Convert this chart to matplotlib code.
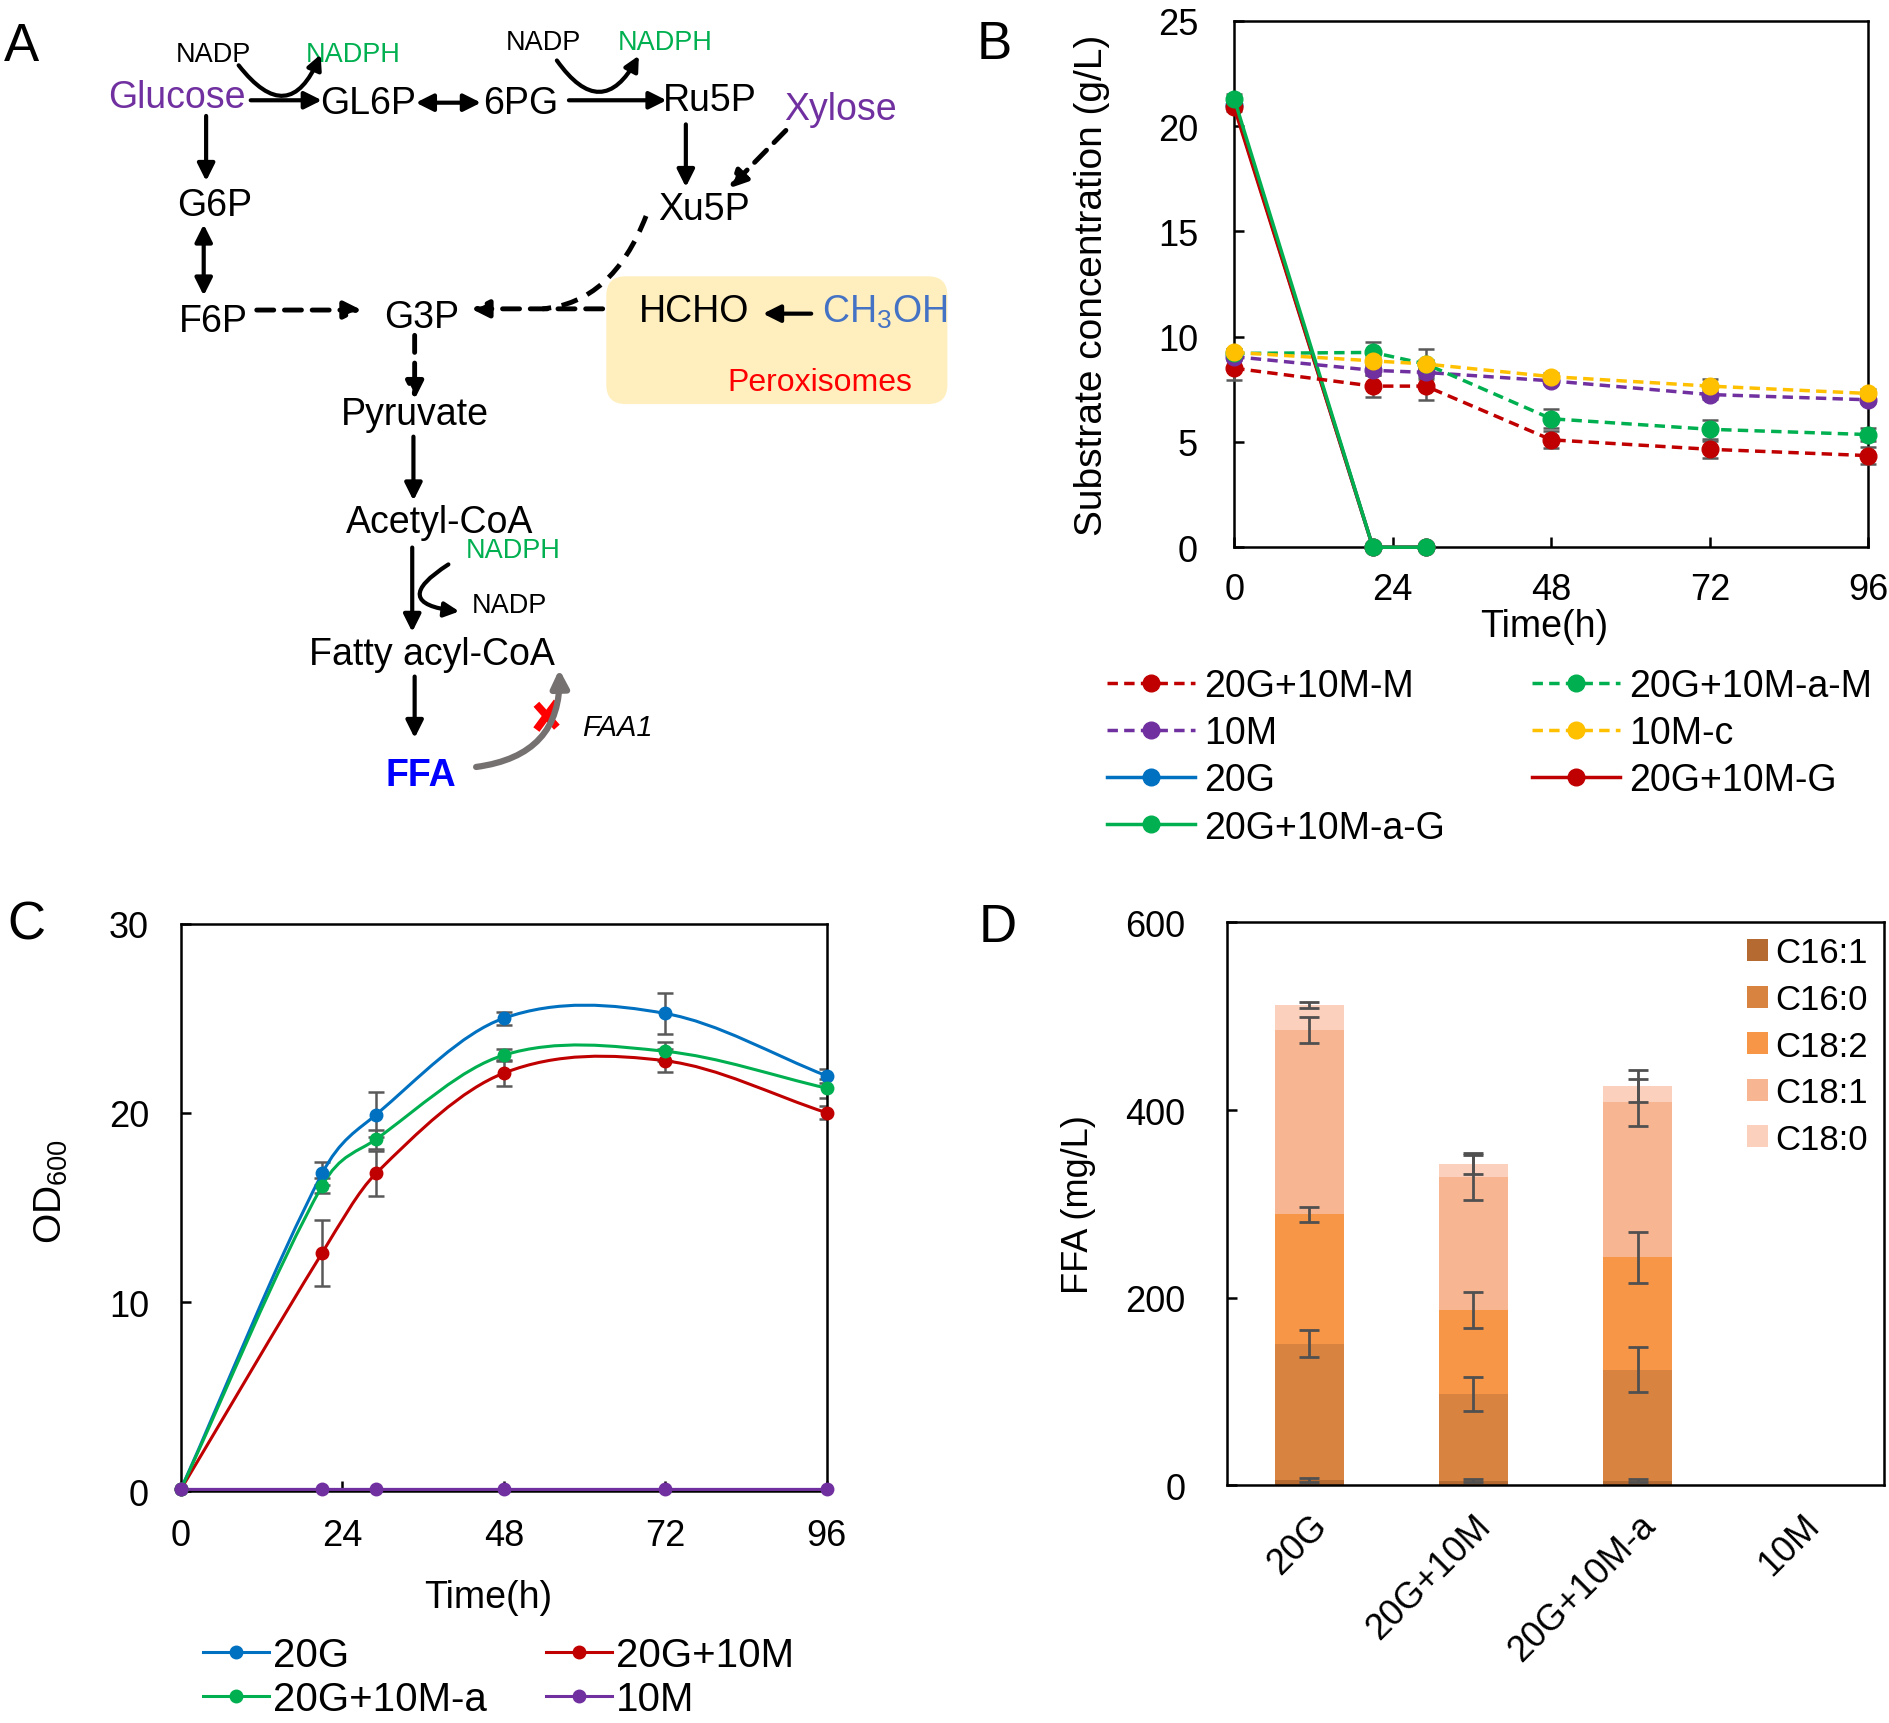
import numpy as np
import matplotlib
matplotlib.use("Agg")
import matplotlib.pyplot as plt
from matplotlib.lines import Line2D
from matplotlib.path import Path
from matplotlib.patches import FancyBboxPatch, PathPatch

plt.rcParams["font.family"] = ["Liberation Sans", "DejaVu Sans"]
plt.rcParams["mathtext.fontset"] = "custom"
plt.rcParams["mathtext.rm"] = "Liberation Sans"
plt.rcParams["mathtext.it"] = "Liberation Sans:italic"
plt.rcParams["mathtext.bf"] = "Liberation Sans:bold"

# ---- panel B: substrate concentration (g/L)
SUB_TIME = [0, 21, 29, 48, 72, 96]
GLC_TIME = [0, 21, 29]
meoh_20g10m = [8.5, 7.65, 7.65, 5.1, 4.65, 4.35]
meoh_20g10m_err = [0.57, 0.53, 0.68, 0.4, 0.4, 0.4]
meoh_10m = [9.05, 8.4, 8.3, 7.9, 7.25, 7.0]
meoh_10m_err = [0.15, 0.2, 0.2, 0.15, 0.2, 0.15]
meoh_10mc = [9.25, 8.85, 8.7, 8.1, 7.65, 7.3]
meoh_10mc_err = [0.15, 0.15, 0.2, 0.15, 0.35, 0.2]
meoh_20g10ma = [9.2, 9.25, 8.7, 6.1, 5.6, 5.35]
meoh_20g10ma_err = [0.2, 0.5, 0.7, 0.45, 0.45, 0.3]
glc_20g = [21.0, 0, 0]
glc_20g10m = [20.9, 0, 0]
glc_20g10ma = [21.3, 0, 0]
glc_err = [0.2, 0.05, 0.05]

# ---- panel C: OD600
OD_TIME = [0, 21, 29, 48, 72, 96]
od_20g = [0.1, 16.8, 19.9, 25.0, 25.25, 21.95]
od_20g_err = [0.05, 0.6, 1.2, 0.35, 1.1, 0.35]
od_20g10m = [0.1, 12.6, 16.8, 22.1, 22.75, 20.0]
od_20g10m_err = [0.05, 1.75, 1.2, 0.7, 0.6, 0.35]
od_20g10ma = [0.1, 16.15, 18.6, 23.05, 23.25, 21.3]
od_20g10ma_err = [0.05, 0.4, 0.5, 0.3, 0.5, 0.5]
od_10m = [0.1, 0.1, 0.1, 0.1, 0.1, 0.1]

# ---- panel D: FFA (mg/L)
FFA_GROUPS = ["20G", "20G+10M", "20G+10M-a", "10M"]
FFA_SPECIES = ["C16:1", "C16:0", "C18:2", "C18:1", "C18:0"]
ffa_c16_1 = [6, 5, 5, 0]
ffa_c16_0 = [145, 92, 118, 0]
ffa_c18_2 = [138, 90, 120, 0]
ffa_c18_1 = [196, 142, 165, 0]
ffa_c18_0 = [27, 13, 18, 0]
ffa_c16_1_err = [2, 2, 2, 0]
ffa_c16_0_err = [14, 18, 24, 0]
ffa_c18_2_err = [8, 19, 27, 0]
ffa_c18_1_err = [14, 25, 25, 0]
ffa_c18_0_err = [3, 10, 17, 0]

RED = "#C00000"
PURPLE = "#7030A0"
YELLOW = "#FFC000"
GREEN = "#00B050"
BLUE = "#0070C0"
ERR = "#595959"
FFA_COLORS = ["#B46A30", "#D98340", "#F79646", "#F8B592", "#FBD0BD"]

TICK_FS = 26


def arrow(ax, start, end, ls="-", style="-|>", color="black", lw=3.0, rad=0.0, ms=26):
    ax.annotate(
        "",
        xy=end,
        xytext=start,
        arrowprops=dict(
            arrowstyle=style,
            color=color,
            lw=lw,
            linestyle=ls,
            mutation_scale=ms,
            shrinkA=0,
            shrinkB=0,
            connectionstyle=f"arc3,rad={rad}",
        ),
    )


def draw_pathway(ax):
    dash = (0, (3.5, 2.2))
    box = FancyBboxPatch((503, 230), 283, 106, boxstyle="round,pad=0,rounding_size=16",
                         facecolor="#FFEFBF", edgecolor="none")
    ax.add_patch(box)

    big = 27
    small = 19.5
    labels = [
        ("Glucose", 147, 81, PURPLE, big),
        ("GL6P", 305, 86, "black", big),
        ("6PG", 432, 86, "black", big),
        ("Ru5P", 589, 84, "black", big),
        ("Xylose", 697, 91, PURPLE, big),
        ("G6P", 178, 171, "black", big),
        ("Xu5P", 584, 174, "black", big),
        ("F6P", 177, 267, "black", big),
        ("G3P", 350, 264, "black", big),
        ("HCHO", 576, 259, "black", big),
        ("CH$_\\mathregular{3}$OH", 734, 259, "#4472C4", big),
        ("Peroxisomes", 680, 318, "#FF0000", 23),
        ("Pyruvate", 344, 344, "black", big),
        ("Acetyl-CoA", 365, 434, "black", big),
        ("Fatty acyl-CoA", 358, 543, "black", big),
        ("NADP", 177, 46, "black", small),
        ("NADPH", 293, 46, GREEN, small),
        ("NADP", 451, 36, "black", small),
        ("NADPH", 552, 36, GREEN, small),
        ("NADPH", 426, 457, GREEN, small),
        ("NADP", 423, 503, "black", small),
    ]
    for text, x, y, color, size in labels:
        ax.text(x, y, text, ha="center", va="center", fontsize=size, color=color)
    ax.text(349, 644, "FFA", ha="center", va="center", fontsize=big, color="#0000FF",
            fontweight="bold")
    ax.text(512, 604, "FAA1", ha="center", va="center", fontsize=21, style="italic")

    # solid arrows
    arrow(ax, (208, 84), (267, 84))
    arrow(ax, (345, 86), (399, 86), style="<|-|>")
    arrow(ax, (472, 84), (553, 84))
    arrow(ax, (171, 97), (171, 151))
    arrow(ax, (169, 187), (169, 246), style="<|-|>")
    arrow(ax, (569, 104), (569, 156))
    arrow(ax, (673, 261), (633, 261))
    arrow(ax, (343, 363), (343, 416))
    arrow(ax, (342, 455), (342, 525))
    arrow(ax, (344, 562), (344, 613))

    # cofactor curves
    arrow(ax, (198, 55), (266, 46), rad=0.85, ms=22)
    arrow(ax, (462, 51), (530, 47), rad=0.8, ms=22)
    arrow(ax, (372, 469), (381, 508), rad=1.4, ms=22)

    # dashed arrows
    arrow(ax, (652, 109), (605, 157), ls=dash, lw=3.5)
    arrow(ax, (213, 258), (300, 258), ls=dash, lw=3.5)
    arrow(ax, (500, 257), (391, 257), ls=dash, lw=3.5)
    arrow(ax, (344, 279), (344, 332), ls=dash, lw=3.5)
    xu5p_link = Path([(536, 180), (508, 252), (450, 257)],
                     [Path.MOVETO, Path.CURVE3, Path.CURVE3])
    ax.add_patch(PathPatch(xu5p_link, fill=False, lw=3.5, ls=dash, ec="black"))

    # blocked FAA1 route
    arrow(ax, (395, 637), (464, 556), color="#767171", lw=4.5, rad=0.45, ms=26)
    ax.plot([445, 462], [606, 583], color="#FF0000", lw=5.5, solid_capstyle="butt")
    ax.plot([445, 462], [585, 604], color="#FF0000", lw=5.5, solid_capstyle="butt")

    for text, x, y in [("A", 18, 39), ("B", 825, 37), ("C", 22, 768), ("D", 828, 770)]:
        ax.text(x, y, text, ha="center", va="center", fontsize=38)


def style_axes(ax, pad_x, pad_y):
    for spine in ax.spines.values():
        spine.set_linewidth(1.8)
    ax.tick_params(direction="in", length=7, width=1.8, labelsize=TICK_FS)
    ax.tick_params(axis="x", pad=pad_x)
    ax.tick_params(axis="y", pad=pad_y)


def smooth_path(xs, ys):
    # cubic Hermite through the points, finite-difference slopes (smoothed line look)
    xs = np.asarray(xs, dtype=float)
    ys = np.asarray(ys, dtype=float)
    n = len(xs)
    slopes = np.empty(n)
    for i in range(n):
        lo = max(i - 1, 0)
        hi = min(i + 1, n - 1)
        slopes[i] = (ys[hi] - ys[lo]) / (xs[hi] - xs[lo])
    verts = [(xs[0], ys[0])]
    codes = [Path.MOVETO]
    for i in range(n - 1):
        h = (xs[i + 1] - xs[i]) / 3.0
        verts += [(xs[i] + h, ys[i] + slopes[i] * h),
                  (xs[i + 1] - h, ys[i + 1] - slopes[i + 1] * h),
                  (xs[i + 1], ys[i + 1])]
        codes += [Path.CURVE4] * 3
    return Path(verts, codes)


def draw_substrate(ax):
    dashed = (0, (3, 1.8))
    series = [
        ("20G", GLC_TIME, glc_20g, glc_err, BLUE, "-"),
        ("20G+10M-G", GLC_TIME, glc_20g10m, glc_err, RED, "-"),
        ("20G+10M-a-G", GLC_TIME, glc_20g10ma, glc_err, GREEN, "-"),
        ("20G+10M-M", SUB_TIME, meoh_20g10m, meoh_20g10m_err, RED, dashed),
        ("10M", SUB_TIME, meoh_10m, meoh_10m_err, PURPLE, dashed),
        ("20G+10M-a-M", SUB_TIME, meoh_20g10ma, meoh_20g10ma_err, GREEN, dashed),
        ("10M-c", SUB_TIME, meoh_10mc, meoh_10mc_err, YELLOW, dashed),
    ]
    lines = {}
    for label, t, y, e, color, ls in series:
        cont = ax.errorbar(t, y, yerr=e, color=color, ls=ls, lw=2.5, marker="o", ms=12,
                           ecolor=ERR, elinewidth=1.8, capsize=6, capthick=1.8,
                           label=label, clip_on=False, zorder=3)
        for artist in cont.lines[1] + cont.lines[2]:
            artist.set_clip_on(False)
        cont[0].set_clip_on(False)
        lines[label] = cont[0]

    ax.set_xlim(0, 96)
    ax.set_ylim(0, 25)
    ax.set_xticks([0, 24, 48, 72, 96])
    ax.set_yticks([0, 5, 10, 15, 20, 25])
    style_axes(ax, 18, 26)
    ax.set_xlabel("Time(h)", fontsize=27)
    ax.set_ylabel("Substrate concentration (g/L)", fontsize=28)
    ax.xaxis.set_label_coords(0.488, -0.115)
    ax.yaxis.set_label_coords(-0.195, 0.5)

    order = ["20G+10M-M", "10M", "20G", "20G+10M-a-G",
             "20G+10M-a-M", "10M-c", "20G+10M-G"]
    ax.legend([lines[k] for k in order], order, ncol=2, loc="upper left",
              bbox_to_anchor=(-0.201, -0.229), frameon=False, fontsize=27,
              handlelength=2.35, handletextpad=0.26, columnspacing=2.3,
              labelspacing=0.3, borderpad=0, borderaxespad=0)


def draw_growth(ax):
    series = [
        ("20G", od_20g, od_20g_err, BLUE),
        ("20G+10M", od_20g10m, od_20g10m_err, RED),
        ("20G+10M-a", od_20g10ma, od_20g10ma_err, GREEN),
        ("10M", od_10m, None, PURPLE),
    ]
    handles = {}
    for label, y, e, color in series:
        ax.add_patch(PathPatch(smooth_path(OD_TIME, y), fill=False, ec=color, lw=2.2,
                               clip_on=False, zorder=3))
        if e is not None:
            ax.errorbar(OD_TIME[1:], y[1:], yerr=e[1:], fmt="none", ecolor=ERR,
                        elinewidth=1.8, capsize=6, capthick=1.8, zorder=2)
        ax.plot(OD_TIME, y, ls="none", marker="o", ms=9, color=color, clip_on=False,
                zorder=4)
        handles[label] = Line2D([], [], color=color, lw=2.2, marker="o", ms=9)

    ax.set_xlim(0, 96)
    ax.set_ylim(0, 30)
    ax.set_xticks([0, 24, 48, 72, 96])
    ax.set_yticks([0, 10, 20, 30])
    style_axes(ax, 19, 23)
    ax.set_xlabel("Time(h)", fontsize=27)
    ax.set_ylabel("OD$_\\mathregular{600}$", fontsize=28)
    ax.xaxis.set_label_coords(0.476, -0.155)
    ax.yaxis.set_label_coords(-0.172, 0.53)

    order = ["20G", "20G+10M-a", "20G+10M", "10M"]
    ax.legend([handles[k] for k in order], order, ncol=2, loc="upper left",
              bbox_to_anchor=(0.034, -0.255), frameon=False, fontsize=29,
              handlelength=1.65, handletextpad=0.1, columnspacing=1.45,
              labelspacing=0.15, borderpad=0, borderaxespad=0)


def draw_ffa(ax):
    x = np.arange(len(FFA_GROUPS))
    layers = [ffa_c16_1, ffa_c16_0, ffa_c18_2, ffa_c18_1, ffa_c18_0]
    errors = [ffa_c16_1_err, ffa_c16_0_err, ffa_c18_2_err, ffa_c18_1_err, ffa_c18_0_err]
    bottom = np.zeros(len(FFA_GROUPS))
    for name, vals, errs, color in zip(FFA_SPECIES, layers, errors, FFA_COLORS):
        vals = np.array(vals, dtype=float)
        ax.bar(x, vals, 0.42, bottom=bottom, color=color, label=name, zorder=1)
        tops = bottom + vals
        mask = vals > 0
        ax.errorbar(x[mask], tops[mask], yerr=np.array(errs)[mask], fmt="none",
                    ecolor="#505050", elinewidth=2, capsize=7, capthick=2, zorder=3)
        bottom = tops

    ax.set_xlim(-0.5, 3.5)
    ax.set_ylim(0, 600)
    ax.set_yticks([0, 200, 400, 600])
    ax.set_xticks(x)
    ax.set_xticklabels(FFA_GROUPS, rotation=45, ha="right", va="top",
                       rotation_mode="anchor")
    style_axes(ax, 16, 30)
    ax.tick_params(axis="x", length=0)
    ax.set_ylabel("FFA (mg/L)", fontsize=26)
    ax.yaxis.set_label_coords(-0.2, 0.5)
    ax.legend(loc="upper right", bbox_to_anchor=(0.975, 0.975), frameon=False,
              fontsize=25, handlelength=0.6, handleheight=0.6, handletextpad=0.2,
              labelspacing=0.39, borderpad=0, borderaxespad=0)


fig = plt.figure(figsize=(18.9, 17.24), dpi=100)

ax_a = fig.add_axes([0, 0, 1, 1])
ax_a.set_xlim(0, 1568)
ax_a.set_ylim(1430, 0)
ax_a.axis("off")
draw_pathway(ax_a)

ax_b = fig.add_axes([0.653, 0.682, 0.3356, 0.3054])
draw_substrate(ax_b)

ax_c = fig.add_axes([0.0957, 0.1344, 0.3418, 0.3293])
draw_growth(ax_c)

ax_d = fig.add_axes([0.6493, 0.1379, 0.3475, 0.3265])
draw_ffa(ax_d)

fig.savefig("out.png", dpi=100)
